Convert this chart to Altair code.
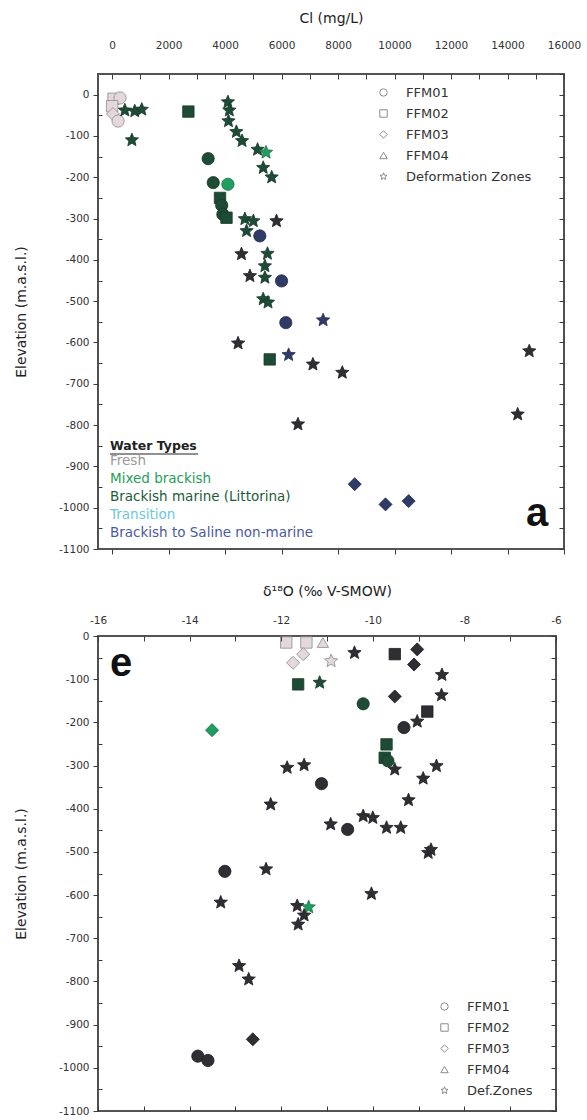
import math
import altair as alt
import pandas as pd

FONT = "DejaVu Sans"

# ---------------------------------------------------------------------------
# Panel a: chloride concentration (mg/L) against elevation (m.a.s.l.)
# ---------------------------------------------------------------------------
A_CL = [50, 280, 0, 30, 210, 450, 800, 1050, 700, 2700,
        4100, 4150, 4120, 4400, 4600, 5150, 5450, 5350, 5650,
        3400, 3580, 4100, 3820, 3880, 3920, 4050,
        4700, 5000, 5820, 4760, 5230, 4580, 5500, 5410, 4880, 5410, 6000,
        5350, 5520, 6150, 7470, 4460, 5580, 6250, 7110, 8150, 6580,
        14770, 14360, 8590, 9680, 10500]
A_ELEV = [-10, -8, -28, -47, -64, -38, -40, -36, -110, -41,
          -18, -38, -64, -90, -112, -133, -140, -177, -200,
          -155, -213, -217, -250, -268, -290, -298,
          -301, -306, -306, -330, -342, -386, -385, -415, -439, -443, -451,
          -495, -503, -552, -546, -602, -641, -630, -653, -673, -798,
          -621, -774, -943, -992, -984]
A_UNIT = ["FFM02", "FFM01", "FFM02", "FFM03", "FFM01", "DZ", "DZ", "DZ", "DZ", "FFM02",
          "DZ", "DZ", "DZ", "DZ", "DZ", "DZ", "DZ", "DZ", "DZ",
          "FFM01", "FFM01", "FFM01", "FFM02", "FFM01", "FFM01", "FFM02",
          "DZ", "DZ", "DZ", "DZ", "FFM01", "DZ", "DZ", "DZ", "DZ", "DZ", "FFM01",
          "DZ", "DZ", "FFM01", "DZ", "DZ", "FFM02", "DZ", "DZ", "DZ", "DZ",
          "DZ", "DZ", "FFM03", "FFM03", "FFM03"]
A_WATER = ["F", "F", "F", "F", "F", "L", "L", "L", "L", "L",
           "L", "L", "L", "L", "L", "L", "M", "L", "L",
           "L", "L", "M", "L", "L", "L", "L",
           "L", "L", "U", "L", "S", "U", "L", "L", "U", "L", "S",
           "L", "L", "S", "S", "U", "L", "S", "U", "U", "U",
           "U", "U", "S", "S", "S"]

# ---------------------------------------------------------------------------
# Panel e: delta-18O (permil V-SMOW) against elevation (m.a.s.l.)
# ---------------------------------------------------------------------------
E_D18O = [-11.89, -11.45, -11.09, -11.74, -11.52, -10.91, -11.63, -11.16, -13.51,
          -11.87, -11.50, -11.12, -12.23, -10.92, -10.55, -13.23, -12.33,
          -10.40, -9.52, -9.03, -9.10, -8.49, -8.50, -10.21, -9.52, -8.81, -9.03, -9.32,
          -9.70, -9.74, -9.67, -9.52, -8.61, -8.90, -9.22, -10.21, -10.00, -9.70, -9.39,
          -8.79, -8.73, -10.03, -13.32, -11.65, -11.40, -11.50, -11.63, -12.92, -12.71,
          -12.62, -13.82, -13.60]
E_ELEV = [-15, -15, -15, -62, -42, -58, -112, -108, -218,
          -305, -299, -342, -390, -436, -448, -545, -540,
          -39, -42, -31, -66, -90, -137, -157, -140, -175, -198, -212,
          -251, -282, -289, -309, -301, -330, -380, -417, -421, -444, -444,
          -502, -495, -597, -617, -625, -628, -647, -668, -764, -795,
          -934, -973, -983]
E_UNIT = ["FFM02", "FFM02", "FFM04", "FFM03", "FFM03", "DZ", "FFM02", "DZ", "FFM03",
          "DZ", "DZ", "FFM01", "DZ", "DZ", "FFM01", "FFM01", "DZ",
          "DZ", "FFM02", "FFM03", "FFM03", "DZ", "DZ", "FFM01", "FFM03", "FFM02", "DZ", "FFM01",
          "FFM02", "FFM02", "FFM01", "DZ", "DZ", "DZ", "DZ", "DZ", "DZ", "DZ", "DZ",
          "DZ", "DZ", "DZ", "DZ", "DZ", "DZ", "DZ", "DZ", "DZ", "DZ",
          "FFM03", "FFM01", "FFM01"]
E_WATER = ["F", "F", "F", "F", "F", "F", "L", "L", "M",
           "U", "U", "U", "U", "U", "U", "U", "U",
           "U", "U", "U", "U", "U", "U", "L", "U", "U", "U", "U",
           "L", "L", "L", "U", "U", "U", "U", "U", "U", "U", "U",
           "U", "U", "U", "U", "U", "M", "U", "U", "U", "U",
           "U", "U", "U"]

# Water-type classes: code, legend text, marker fill, marker edge
WATER_CODES = ["F", "M", "L", "T", "S", "U"]
WATER_NAMES = ["Fresh", "Mixed brackish", "Brackish marine (Littorina)", "Transition",
               "Brackish to Saline non-marine"]
WATER_FILL = ["#e4d8dd", "#1f9e62", "#1d4b36", "#63c7c8", "#2f3a66", "#2e2e33"]
WATER_EDGE = ["#8a8a8a", "#166e45", "#173a2a", "#3a9c9e", "#232b50", "#1e1e22"]
WATER_TEXT = ["#9a9a9a", "#1f9e55", "#1e5c38", "#6cc8d8", "#4a5aa0"]

UNIT_CODES = ["FFM01", "FFM02", "FFM03", "FFM04", "DZ"]
UNIT_NAMES_A = ["FFM01", "FFM02", "FFM03", "FFM04", "Deformation Zones"]
UNIT_NAMES_E = ["FFM01", "FFM02", "FFM03", "FFM04", "Def.Zones"]
# marker area (px^2) per symbol kind
MARKER_AREA = {"FFM01": 150, "FFM02": 130, "FFM03": 170, "FFM04": 130, "DZ": 195}

# five-point star symbol in the unit box [-1, 1]
_star = []
for k in range(10):
    r = 1.0 if k % 2 == 0 else 0.45
    ang = math.radians(-90 + 36 * k)
    _star.append(f"{r * math.cos(ang):.3f},{r * math.sin(ang):.3f}")
STAR = "M" + "L".join(_star) + "Z"
SHAPES = ["circle", "square", "diamond", "triangle-up", STAR]

AXIS_INK = "#3a3a3a"


def frame(xs, ys, units, waters, names):
    m = dict(zip(UNIT_CODES, names))
    return pd.DataFrame({"x": xs, "elev": ys, "unit": [m[u] for u in units],
                         "area": [MARKER_AREA[u] for u in units],
                         "water": waters})


def text_layer(txt, px, py, **kw):
    return alt.Chart(pd.DataFrame({"t": [txt]})).mark_text(
        align="left", baseline="middle", **kw
    ).encode(x=alt.value(px), y=alt.value(py), text="t:N")


def tick_axis(orient, values, size, offset=0):
    return alt.Axis(orient=orient, values=values, labels=False, ticks=True,
                    tickSize=size, offset=offset, tickColor=AXIS_INK, tickWidth=1,
                    domain=False, grid=False, title=None, zindex=1)


def panel(df, xdomain, ydomain, width, height, top_axis, bottom_axis, y_right_vals,
          names, leg_x, leg_y, extras):
    xs = alt.Scale(domain=xdomain, nice=False, zero=False)
    ys = alt.Scale(domain=ydomain, nice=False, zero=False)
    base = alt.Chart(df)
    left_axis = alt.Axis(orient="left", values=list(range(-1100, 1, 100)), ticks=True,
                         tickSize=5, tickColor=AXIS_INK, tickWidth=1, zindex=1,
                         domain=False, grid=False, labelPadding=4,
                         labelExpr="'' + datum.value", labelOverlap=False,
                         title="Elevation (m.a.s.l.)", titlePadding=30)
    box = alt.Chart(pd.DataFrame({"t": [0]})).mark_rect(
        fill="transparent", stroke="#4a4a4a", strokeWidth=1.6
    ).encode(x=alt.value(0), x2=alt.value(width), y=alt.value(0), y2=alt.value(height))
    pts = base.mark_point(filled=True, strokeWidth=0.8, opacity=1,
                          color="white").encode(
        x=alt.X("x:Q", scale=xs, axis=top_axis),
        y=alt.Y("elev:Q", scale=ys, axis=left_axis),
        shape=alt.Shape("unit:N", scale=alt.Scale(domain=names, range=SHAPES),
                        legend=alt.Legend(orient="none", legendX=leg_x, legendY=leg_y,
                                          title=None, symbolSize=55,
                                          symbolFillColor="white",
                                          symbolStrokeColor="#8c8c8c",
                                          symbolStrokeWidth=1, labelFontSize=13,
                                          labelFont=FONT, labelColor="#333",
                                          rowPadding=7, labelOffset=16, padding=0)),
        size=alt.Size("area:Q", scale=None),
        fill=alt.Fill("water:N", scale=alt.Scale(domain=WATER_CODES, range=WATER_FILL),
                      legend=None),
        stroke=alt.Stroke("water:N", scale=alt.Scale(domain=WATER_CODES, range=WATER_EDGE),
                          legend=None),
    )
    mirror = base.mark_point(opacity=0).encode(
        x=alt.X("x:Q", scale=xs, axis=bottom_axis),
        y=alt.Y("elev:Q", scale=ys, axis=tick_axis("right", y_right_vals, 5, -5)),
    )
    minor = base.mark_point(opacity=0).encode(
        x=alt.X("x:Q", scale=xs, axis=None),
        y=alt.Y("elev:Q", scale=ys,
                axis=tick_axis("left", list(range(-1050, 0, 100)), 4, -4)),
    )
    return alt.layer(box, pts, mirror, minor, *extras).resolve_axis(
        x="independent", y="independent"
    ).properties(width=width, height=height)


df_a = frame(A_CL, A_ELEV, A_UNIT, A_WATER, UNIT_NAMES_A)
df_e = frame(E_D18O, E_ELEV, E_UNIT, E_WATER, UNIT_NAMES_E)

# Water-type key and panel letter for panel a
extras_a = [text_layer("Water Types", 12, 372, font=FONT, fontSize=12.5,
                       fontWeight="bold", color="#222")]
extras_a.append(alt.Chart(pd.DataFrame({"t": [0]})).mark_rule(
    color="#222", strokeWidth=1).encode(x=alt.value(12), x2=alt.value(100),
                                          y=alt.value(380)))
for i, (name, col) in enumerate(zip(WATER_NAMES, WATER_TEXT)):
    extras_a.append(text_layer(name, 12, 387 + 18 * i, font=FONT, fontSize=13.5,
                               color=col))
extras_a.append(text_layer("a", 428, 440, font="Liberation Sans", fontSize=40,
                           fontWeight="bold", color="#111"))

extras_e = [text_layer("e", 12, 28, font="Liberation Sans", fontSize=40,
                       fontWeight="bold", color="#111")]

top_a = alt.Axis(orient="top", values=list(range(0, 16001, 1000)),
                 labelExpr="datum.value % 2000 == 0 ? '' + datum.value : ''",
                 labelOverlap=False, labelFlush=False, ticks=True, tickSize=5,
                 offset=-5, tickColor=AXIS_INK, tickWidth=1, zindex=1,
                 domain=False, grid=False, labelPadding=24,
                 title="Cl (mg/L)", titlePadding=15)
bottom_a = tick_axis("bottom", list(range(0, 16001, 2000)), 5)
top_e = alt.Axis(orient="top", values=list(range(-16, -5, 1)),
                 labelExpr="datum.value % 2 == 0 ? '' + datum.value : ''",
                 labelOverlap=False, labelFlush=False, ticks=True, tickSize=5,
                 offset=-5, tickColor=AXIS_INK, tickWidth=1, zindex=1,
                 domain=False, grid=False, labelPadding=11,
                 title="δ¹⁸O (‰ V-SMOW)", titlePadding=17)
bottom_e = tick_axis("bottom", list(range(-16, -5, 1)), 5, -5)

chart_a = panel(df_a, [-500, 16000], [-1100, 50], 466, 475, top_a, bottom_a,
                list(range(-1100, 51, 50)), UNIT_NAMES_A, 279, 12, extras_a)
chart_e = panel(df_e, [-16, -6], [-1100, 0], 458, 475, top_e, bottom_e,
                list(range(-1100, 1, 50)), UNIT_NAMES_E, 340, 364, extras_e)

chart = alt.vconcat(chart_a, chart_e, spacing=27).resolve_scale(
    x="independent", y="independent", shape="independent"
).resolve_legend(shape="independent").properties(
    padding={"left": 13, "top": 10, "right": 5, "bottom": 5},
    background="white",
).configure_view(
    stroke="#4a4a4a", strokeWidth=1.6
).configure_axis(
    labelFont=FONT, labelFontSize=10.5, labelColor="#333",
    titleFont=FONT, titleFontSize=14, titleFontWeight="normal", titleColor="#222",
    tickColor=AXIS_INK, tickWidth=1
)

chart.save("out.html", embed_options={"renderer": "svg", "actions": False})
